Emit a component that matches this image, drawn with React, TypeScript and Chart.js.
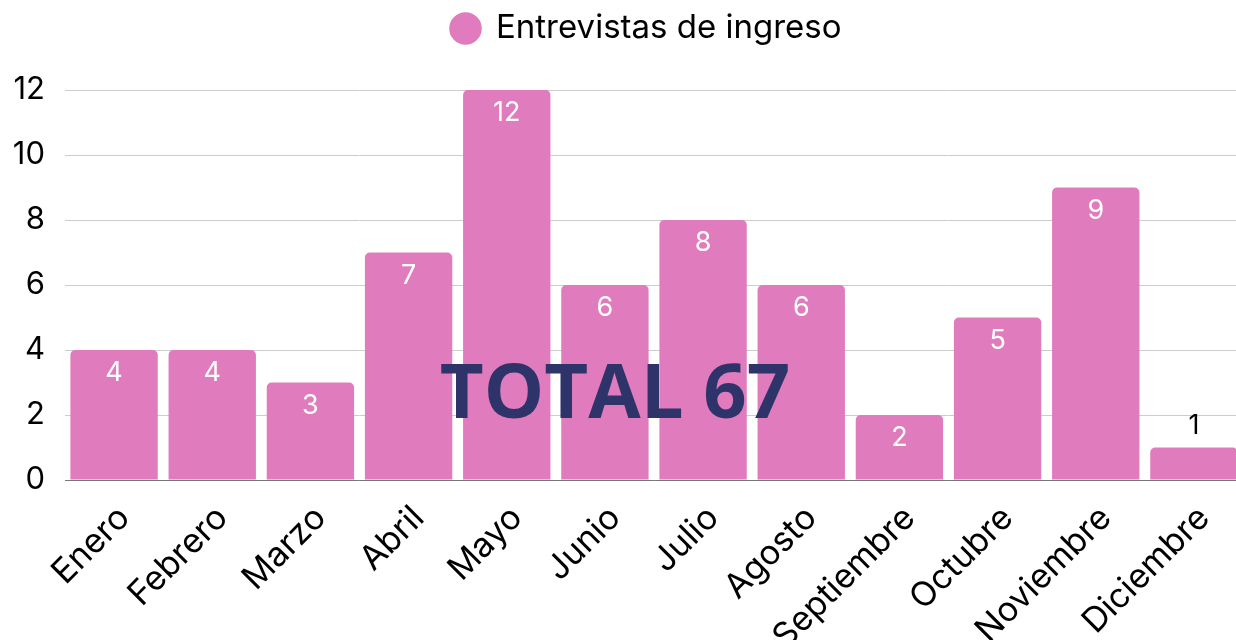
import React, { useEffect, useRef } from "react";
import { Chart, registerables } from "chart.js";

Chart.register(...registerables);

const categories = ["Enero", "Febrero", "Marzo", "Abril", "Mayo", "Junio", "Julio", "Agosto", "Septiembre", "Octubre", "Noviembre", "Diciembre"];
const values = [4, 4, 3, 7, 12, 6, 8, 6, 2, 5, 9, 1];
const seriesLabel = "Entrevistas de ingreso";
const totalText = "TOTAL 67";

const BAR = "#e07cbd";
const FONT = "Inter";

const legendTweak = {
  id: "legendTweak",
  beforeInit(chart: any) {
    const legend = chart.legend;
    const origFit = legend.fit;
    legend.fit = function () {
      origFit.bind(legend)();
      this.height += 35;
    };
    const origDraw = legend.draw;
    legend.draw = function () {
      const ctx = chart.ctx;
      ctx.save();
      ctx.translate(25, 0);
      origDraw.bind(legend)();
      ctx.restore();
    };
  },
};

const valueLabels = {
  id: "valueLabels",
  afterDatasetsDraw(chart: any) {
    const ctx = chart.ctx;
    const meta = chart.getDatasetMeta(0);
    ctx.save();
    ctx.font = `27px ${FONT}`;
    ctx.textAlign = "center";
    ctx.textBaseline = "middle";
    meta.data.forEach((bar: any, i: number) => {
      const { x, y, base } = bar.getProps(["x", "y", "base"], true);
      const h = base - y;
      const v = String(chart.data.datasets[0].data[i]);
      if (h > 45) {
        ctx.fillStyle = "#ffffff";
        ctx.fillText(v, x, y + 23);
      } else {
        ctx.fillStyle = "#000000";
        ctx.fillText(v, x, y - 22);
      }
    });
    ctx.restore();
  },
};

const totalLabel = {
  id: "totalLabel",
  afterDraw(chart: any) {
    const ctx = chart.ctx;
    ctx.save();
    ctx.font = `bold 76px "Open Sans"`;
    ctx.fillStyle = "#2e346a";
    ctx.textAlign = "center";
    ctx.textBaseline = "alphabetic";
    ctx.fillText(totalText, 615, 418);
    ctx.restore();
  },
};

export default function App() {
  const ref = useRef<HTMLCanvasElement>(null);
  useEffect(() => {
    if (!ref.current) return;
    const chart = new Chart(ref.current, {
      type: "bar",
      data: {
        labels: categories,
        datasets: [
          {
            label: seriesLabel,
            data: values,
            backgroundColor: BAR,
            borderRadius: { topLeft: 5, topRight: 5, bottomLeft: 0, bottomRight: 0 },
            borderSkipped: "bottom",
            barPercentage: 0.89,
            categoryPercentage: 1,
          },
        ],
      },
      options: {
        animation: false,
        responsive: true,
        maintainAspectRatio: false,
        layout: { padding: 0 },
        plugins: {
          legend: {
            position: "top",
            labels: {
              usePointStyle: true,
              pointStyle: "circle",
              boxWidth: 28,
              boxHeight: 23,
              padding: 12,
              color: "#000",
              font: { family: FONT, size: 33 },
            },
          },
          tooltip: { enabled: false },
        },
        scales: {
          x: {
            afterFit(scale: any) {
              scale.height = 160;
            },
            grid: { display: false, drawTicks: false },
            border: { display: true, color: "#777" },
            ticks: {
              color: "#000",
              font: { family: FONT, size: 34 },
              minRotation: 45,
              maxRotation: 45,
              autoSkip: false,
              padding: 18,
              labelOffset: 10,
            },
          },
          y: {
            min: 0,
            max: 12,
            afterFit(scale: any) {
              scale.width = 65;
            },
            grid: { color: "#cccccc", drawTicks: false },
            border: { display: false },
            ticks: {
              stepSize: 2,
              color: "#000",
              font: { family: FONT, size: 31 },
              padding: 20,
            },
          },
        },
      },
      plugins: [legendTweak, valueLabels, totalLabel],
    });
    return () => chart.destroy();
  }, []);
  return (
    <div style={{ position: "absolute", left: 0, top: 0, width: 1236, height: 640, overflow: "hidden" }}>
      <div style={{ position: "relative", width: 1243, height: 640 }}>
        <canvas ref={ref} />
      </div>
    </div>
  );
}
